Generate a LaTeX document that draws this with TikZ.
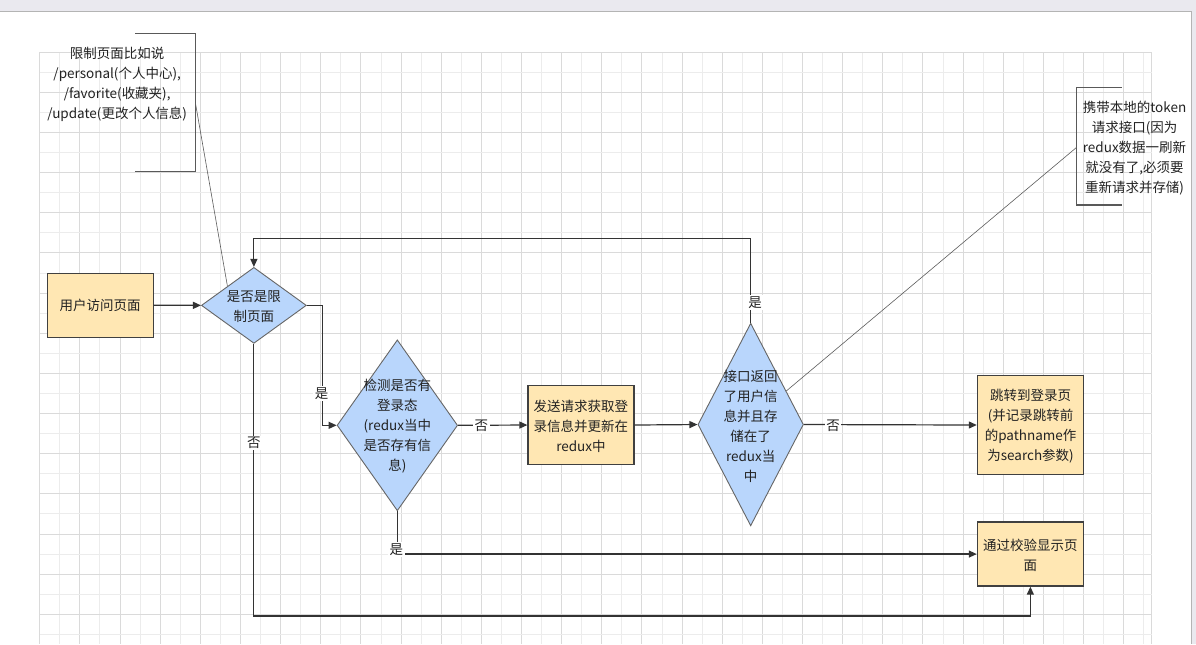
\documentclass[tikz,border=0pt]{standalone}
\usepackage{fontspec}
\setmainfont{Noto Sans CJK SC}
\usetikzlibrary{arrows.meta,shapes.geometric,calc}
\definecolor{barc}{HTML}{EAE9EF}
\definecolor{pageedge}{HTML}{B4B4B4}
\definecolor{gridmin}{HTML}{ECECEC}
\definecolor{gridmaj}{HTML}{DADADA}
\definecolor{boxfill}{HTML}{FFE7B3}
\definecolor{diafill}{HTML}{B9D6FC}
\definecolor{boxline}{HTML}{404040}
\definecolor{dialine}{HTML}{666666}
\definecolor{linec}{HTML}{333333}
\definecolor{txtc}{HTML}{222222}
\tikzset{
  txt/.style={font=\fontsize{13.5pt}{20pt}\selectfont, text=txtc, align=center, inner sep=0pt},
  procbox/.style={draw=boxline, line width=1.2pt, fill=boxfill, rectangle, inner sep=0pt},
  dia/.style={draw=dialine, line width=0.9pt, fill=diafill, diamond, inner sep=0pt},
  conn/.style={draw=linec, line width=1.2pt, -{Triangle[length=8pt,width=7pt]}},
  plainconn/.style={draw=linec, line width=1.2pt},
  note/.style={draw=linec!80, line width=0.6pt},
  brk/.style={draw=black!65, line width=1.3pt},
  lbl/.style={txt, fill=white, inner sep=1.5pt}
}
\begin{document}
\begin{tikzpicture}[x=1pt,y=-1pt]
% background and page
\fill[barc] (0,0) rectangle (1196,644);
\fill[white] (0,12) rectangle (1191,644);
\draw[pageedge, line width=1pt] (0,12) -- (1191,12) -- (1191,644);
% grid
\foreach \i in {0,...,55}{
  \pgfmathsetmacro{\gx}{39.3+20.08*\i}
  \pgfmathtruncatemacro{\ev}{mod(\i,2)}
  \ifnum\ev=0
    \draw[gridmaj, line width=1pt] (\gx,52.3) -- (\gx,644);
  \else
    \draw[gridmin, line width=1pt] (\gx,52.3) -- (\gx,644);
  \fi
}
\draw[gridmaj, line width=1pt] (1151.7,52.3) -- (1151.7,644);
\foreach \j in {0,...,29}{
  \pgfmathsetmacro{\gy}{52.3+20.08*\j}
  \pgfmathtruncatemacro{\ev}{mod(\j,2)}
  \ifnum\ev=0
    \draw[gridmaj, line width=1pt] (39.3,\gy) -- (1151.7,\gy);
  \else
    \draw[gridmin, line width=1pt] (39.3,\gy) -- (1151.7,\gy);
  \fi
}

% process nodes
\node[procbox, minimum width=106pt, minimum height=64pt] (r1) at (99.7,305.3) {};
\node[txt] (t1) at (r1) {用户访问页面};
\node[dia, minimum width=105pt, minimum height=76pt] (d1) at (253.5,305.5) {};
\node[txt] (td1) at (253.5,306.3) {是否是限\\制页面};
\node[dia, minimum width=120.6pt, minimum height=171pt] (d2) at (397,425.5) {};
\node[txt] (td2) at (397,426.3) {检测是否有\\登录态\\(redux当中\\是否存有信\\息)};
\node[procbox, minimum width=106pt, minimum height=78.3pt] (r4) at (580.7,425.2) {};
\node[txt] (t4) at (580.7,426.3) {发送请求获取登\\录信息并更新在\\redux中};
\node[dia, minimum width=105.6pt, minimum height=202.7pt] (d5) at (750.5,424.7) {};
\node[txt] (td5) at (750.5,426.3) {接口返回\\了用户信\\息并且存\\储在了\\redux当\\中};
\node[procbox, minimum width=106.4pt, minimum height=98.3pt] (r6) at (1030.5,425.2) {};
\node[txt] (t6) at (1030.5,426.3) {跳转到登录页\\(并记录跳转前\\的pathname作\\为search参数)};
\node[procbox, minimum width=106pt, minimum height=64pt] (r7) at (1030.3,554.3) {};
\node[txt] (t7) at (1030.3,556) {通过校验显示页\\面};

% annotation A
\coordinate (ba1) at (135,33.5);
\coordinate (ba2) at (195,33.5);
\coordinate (ba3) at (195,171.7);
\coordinate (ba4) at (135,171.7);
\draw[brk] (ba1) -- (ba2) -- (ba3) -- (ba4);
\node[txt] (na) at (116.7,84) {限制页面比如说\\/personal(个人中心),\\/favorite(收藏夹),\\/update(更改个人信息)};
\coordinate (pa) at (195,103);
\draw[note] (pa) -- (d1.north west);

% annotation B
\coordinate (bb1) at (1121.7,87.3);
\coordinate (bb2) at (1076.7,87.3);
\coordinate (bb3) at (1076.7,205);
\coordinate (bb4) at (1121.7,205);
\draw[brk] (bb1) -- (bb2) -- (bb3) -- (bb4);
\node[txt] (nb) at (1134.5,148.5) {携带本地的token\\请求接口(因为\\redux数据一刷新\\就没有了,必须要\\重新请求并存储)};
\coordinate (pb) at (1076.7,147.3);
\draw[note] (pb) -- ($(d5.north)!0.67!(d5.east)$);

% connectors
\draw[conn] (r1.east) -- (d1.west);
\draw[conn] (d1.east) -- ++(15.3,0) |- (d2.west);
\coordinate (bl) at (253.5,616.3);
\draw[conn] (d1.south) -- (bl) -| (r7.south);
\draw[conn] (d2.east) -- (r4.west);
\draw[conn] (d2.south) |- (r7.west);
\draw[conn] (r4.east) -- (d5.west);
\coordinate (tp) at (750.5,238.3);
\draw[conn] (d5.north) -- (tp) -| (d1.north);
\draw[conn] (d5.east) -- (r6.west);

% labels
\node[lbl] (l1) at (321.3,394) {是};
\node[lbl] (l2) at (253.5,443.3) {否};
\node[lbl] (l3) at (481,426) {否};
\node[lbl] (l4) at (396,550) {是};
\node[lbl] (l5) at (755,302.7) {是};
\node[lbl] (l6) at (833,425.5) {否};
\end{tikzpicture}
\end{document}
